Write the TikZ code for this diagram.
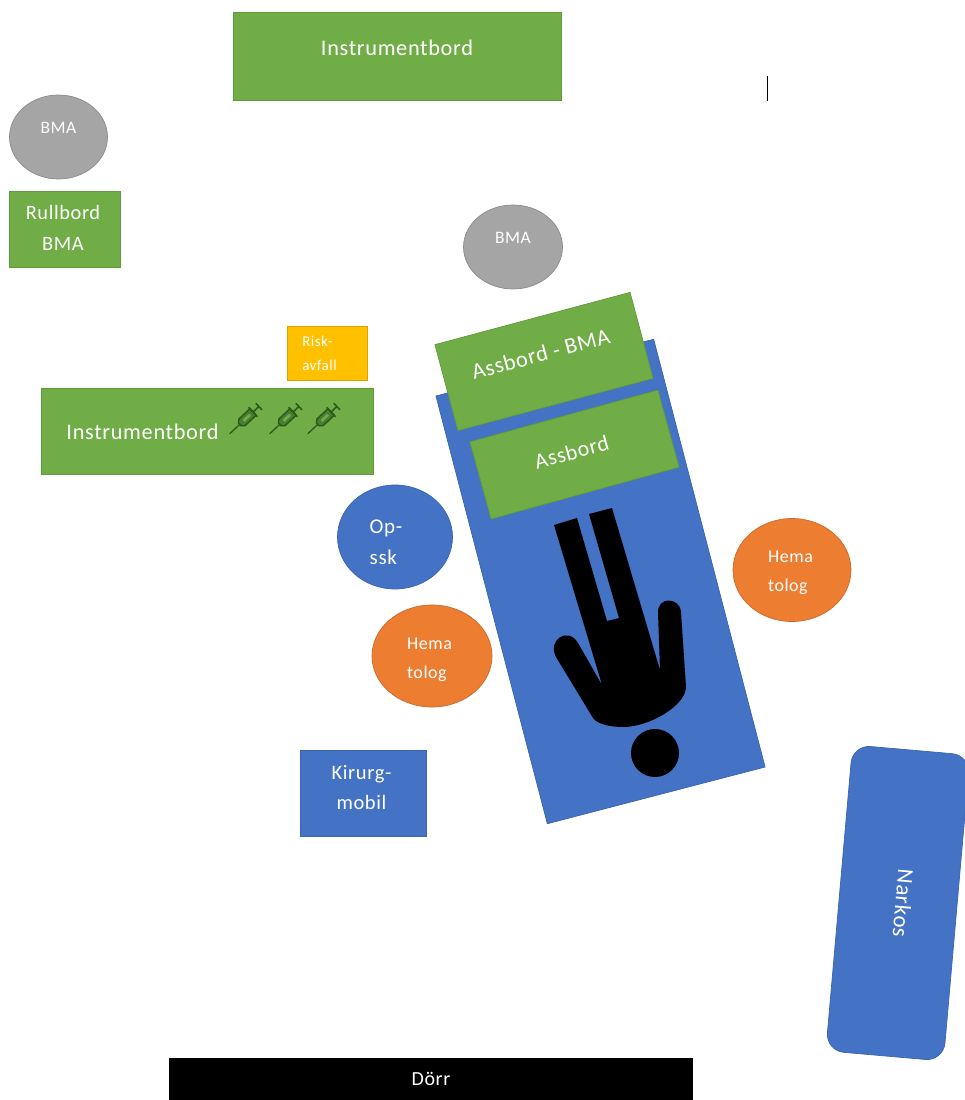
\documentclass[tikz,border=0pt]{standalone}
\usepackage{fontspec}
\setmainfont{Carlito}[LetterSpace=3]
\usetikzlibrary{shapes.geometric}
\definecolor{cgreen}{HTML}{70AD47}
\definecolor{cgreend}{HTML}{5F9A3B}
\definecolor{cblue}{HTML}{4472C4}
\definecolor{cblued}{HTML}{3A64AE}
\definecolor{corange}{HTML}{ED7D31}
\definecolor{corangd}{HTML}{C96A2A}
\definecolor{cgray}{HTML}{A5A5A5}
\definecolor{cgrayd}{HTML}{8C8C8C}
\definecolor{cgold}{HTML}{FFC000}
\definecolor{syr}{HTML}{2C5A1C}
\newcommand{\fsz}[2]{\fontsize{#1}{#2}\selectfont}
\newcommand{\stack}[5]{\raisebox{#1}[0pt][0pt]{#4\begin{tabular}{@{}#3@{}}#5\end{tabular}\hspace*{#2}}}
\newcommand{\oneline}[2]{\raisebox{#1}[0pt][0pt]{#2}}
\tikzset{
  lbl/.style={text=white,align=center,inner sep=0pt},
  greenbox/.style={lbl,rectangle,fill=cgreen,draw=cgreend,line width=.7pt,font=\fsz{22.3}{26}},
  bluebox/.style={lbl,rectangle,fill=cblue,draw=cblued,line width=.7pt},
  person/.style={lbl,ellipse,line width=.7pt},
  hema/.style={person,fill=corange,draw=corangd},
  bma/.style={person,fill=cgray,draw=cgrayd,font=\fsz{17.5}{20}},
  syringe/.pic={
    \draw[draw=syr,line width=1.3pt] (-21,0) -- (-7,0);
    \draw[draw=syr,line width=1.5pt,fill=cgreen!45!syr] (-7,-2) -- (-7,2) -- (-4,4.5) -- (11,4.5) -- (11,-4.5) -- (-4,-4.5) -- cycle;
    \fill[cgreen] (-2,-1.3) rectangle (7,1.3);
    \draw[draw=syr,line width=1.6pt] (11,-6.5) -- (11,6.5);
    \draw[draw=syr,line width=1.6pt] (11,0) -- (19,0) (19,-4.5) -- (19,4.5);
  }
}
\begin{document}
\begin{tikzpicture}[x=1pt,y=-1pt]
\useasboundingbox (0,0) rectangle (965,1100);
% top shapes
\node[greenbox,minimum width=328pt,minimum height=88pt] (instrA) at (397,56) {\oneline{1pt}{Instrumentbord}};
\node[bma,minimum width=98pt,minimum height=84pt] (bmaA) at (58.5,137) {\oneline{3.4pt}{BMA}};
\node[greenbox,minimum width=111pt,minimum height=76pt] (rull) at (64.5,229) {\stack{-4.5pt}{3pt}{c}{\fsz{20.4}{31}}{Rullbord\\BMA}};
\node[bma,minimum width=99pt,minimum height=84pt] (bmaB) at (513,247) {\oneline{3.4pt}{BMA}};
\node[greenbox,fill=cgold,draw=cgold!85!black,minimum width=80pt,minimum height=54pt] (risk) at (327,353) {\stack{-4pt}{15pt}{l}{\fsz{15}{24}}{Risk-\\avfall}};
\node[greenbox,minimum width=332pt,minimum height=86pt] (instrB) at (207,431) {\oneline{-8pt}{Instrumentbord\hspace*{129pt}}};
\pic at (245,419.5) [rotate=43] {syringe};
\pic at (285,419.5) [rotate=43] {syringe};
\pic at (323,419.5) [rotate=43] {syringe};
% bed
\node[bluebox,minimum width=225pt,minimum height=442pt,rotate=14.6] (bed) at (600.5,581.5) {};
\node[greenbox,minimum width=202pt,minimum height=89pt,rotate=15] (assA) at (544,361.5) {\oneline{0.5pt}{\fsz{22.5}{26}Assbord - BMA\hspace*{2.4pt}}};
\node[greenbox,minimum width=195pt,minimum height=80pt,rotate=15.4] (assB) at (574.5,454.5) {\oneline{-4.5pt}{\fsz{22}{26}Assbord\hspace*{4.4pt}}};
% patient
\fill[black] (554,525) -- (577,518) -- (607,621) -- (619,618) -- (589,514) -- (612,508)
  -- (660,670) -- (658,613) .. controls (657,596) and (680,597) .. (681,612)
  -- (686,687) .. controls (686,705) and (650,727) .. (623,727)
  .. controls (610,727) and (597,724) .. (593,718)
  -- (556,657) .. controls (547,640) and (568,626) .. (578,643)
  -- (602,685) -- cycle;
\node[circle,fill=black,minimum size=48pt,inner sep=0pt] (head) at (655,753) {};
% people
\node[person,fill=cblue,draw=cblued,minimum width=115pt,minimum height=104pt] (op) at (395,537) {\stack{-10.5pt}{18pt}{l}{\fsz{21}{31}}{Op-\\ssk}};
\node[hema,minimum width=118pt,minimum height=103pt] (hemaA) at (792,570) {\stack{-6pt}{3pt}{l}{\fsz{18}{29}}{Hema\\tolog}};
\node[hema,minimum width=120pt,minimum height=102pt] (hemaB) at (432,656) {\stack{-7pt}{5pt}{l}{\fsz{18}{29}}{Hema\\tolog}};
\node[bluebox,minimum width=126pt,minimum height=86pt] (kir) at (363,793) {\stack{-1pt}{3pt}{c}{\fsz{20.5}{30}}{Kirurg-\\mobil}};
\node[bluebox,rounded corners=18pt,minimum width=307pt,minimum height=118pt,rotate=-95] (nark) at (898,903) {\oneline{-2.5pt}{\fsz{23}{26}Narkos}};
% door
\node[rectangle,fill=black,text=white,inner sep=0pt,minimum width=524pt,minimum height=42pt,font=\fsz{20}{24}] (door) at (431,1079) {\oneline{-6pt}{Dörr}};
% text cursor
\coordinate (curA) at (767.5,76);
\coordinate (curB) at (767.5,101);
\draw[black,line width=1pt] (curA) -- (curB);
\end{tikzpicture}
\end{document}
